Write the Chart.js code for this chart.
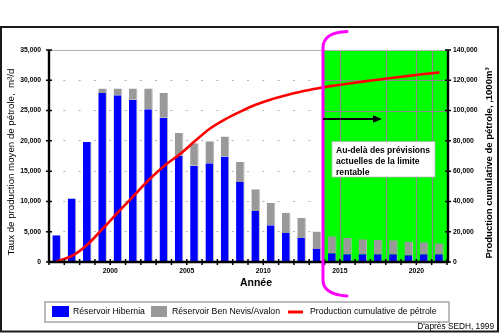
<!DOCTYPE html>
<html>
<head>
<meta charset="utf-8">
<script src="https://cdn.jsdelivr.net/npm/chart.js@4"></script>
<style>
  html, body { margin: 0; padding: 0; background: #fff; }
  canvas { display: block; }
</style>
</head>
<body>
<canvas id="c" width="500" height="333"></canvas>
<script>
// Production annuelle moyenne (m³/d) par réservoir et production cumulative (1000 m³)
const years = [1997, 1998, 1999, 2000, 2001, 2002, 2003, 2004, 2005, 2006, 2007, 2008, 2009,
               2010, 2011, 2012, 2013, 2014, 2015, 2016, 2017, 2018, 2019, 2020, 2021, 2022];
const hibernia = [4400, 10500, 19800, 27900, 27550, 26800, 25200, 23800, 17600, 15900, 16300, 17400, 13200,
                  8400, 6050, 4800, 3950, 2150, 1450, 1300, 1300, 1300, 1300, 1100, 1300, 1300];
const benNevis = [0, 0, 0, 750, 1100, 1850, 3450, 4100, 3700, 3700, 3650, 3300, 3300,
                  3600, 3700, 3350, 3300, 2900, 2800, 2650, 2450, 2350, 2300, 2200, 1950, 1800];
const cumulative = [500, 4000, 11400, 21900, 32700, 43400, 54000, 63300, 70800, 79500, 88000, 94200, 99300,
                    103800, 107300, 110100, 112600, 114600, 116300, 117700, 119100, 120400, 121700, 122900, 124100, 125200];
const rateTicks = [0, 5000, 10000, 15000, 20000, 25000, 30000, 35000];
const cumTicks = [0, 20000, 40000, 60000, 80000, 100000, 120000, 140000];
const yearLabels = [2000, 2005, 2010, 2015, 2020];

const labels = {
  hibernia: 'Réservoir Hibernia',
  benNevis: 'Réservoir Ben Nevis/Avalon',
  cumul: 'Production cumulative de pétrole',
  xTitle: 'Année',
  yTitle: 'Taux de production moyen de pétrole,  m³/d',
  y1Title: 'Production cumulative de pétrole, ,1000m³',
  note: ['Au-delà des prévisions', 'actuelles de la limite', 'rentable'],
  source: "D'après SEDH, 1999"
};

// zone au-delà de la limite rentable (axe des années)
const zoneStart = 2013.9;
const zoneGridYears = [2015, 2018, 2020, 2021];
const zoneGridCum = [100000, 120000];
const arrowLevel = 94400;
const arrowEndYear = 2017.75;

const fam = '"Liberation Sans", Arial, Helvetica, sans-serif';
const fmt = v => Number(v).toLocaleString('en-US');

const decor = {
  id: 'decor',
  beforeDatasetsDraw(chart) {
    const { ctx, chartArea: a, scales: { x, y1 } } = chart;
    const gx = x.getPixelForValue(zoneStart);
    ctx.save();
    ctx.fillStyle = '#00ff00';
    ctx.fillRect(gx, a.top, a.right - gx, a.bottom - a.top);
    ctx.strokeStyle = '#8a8a8a';
    ctx.lineWidth = 1.2;
    ctx.beginPath();
    for (const v of zoneGridYears) {
      const px = Math.round(x.getPixelForValue(v)) + 0.5;
      ctx.moveTo(px, a.top); ctx.lineTo(px, a.bottom);
    }
    for (const v of zoneGridCum) {
      const py = Math.round(y1.getPixelForValue(v)) + 0.5;
      ctx.moveTo(gx, py); ctx.lineTo(a.right, py);
    }
    ctx.stroke();
    ctx.strokeStyle = '#b0b0b0';
    ctx.lineWidth = 1;
    ctx.beginPath();
    ctx.moveTo(a.left, a.top + 0.5); ctx.lineTo(a.right, a.top + 0.5);
    ctx.stroke();
    ctx.restore();
  },
  afterDatasetsDraw(chart) {
    const { ctx, chartArea: a, scales: { x, y, y1 } } = chart;
    ctx.save();
    // axes
    ctx.strokeStyle = '#000';
    ctx.lineWidth = 2.4;
    ctx.beginPath();
    ctx.moveTo(a.left, a.top); ctx.lineTo(a.left, a.bottom + 1);
    ctx.moveTo(a.right + 1, a.top); ctx.lineTo(a.right + 1, a.bottom + 1);
    ctx.moveTo(a.left, a.bottom); ctx.lineTo(a.right + 1, a.bottom);
    ctx.stroke();
    ctx.lineWidth = 1.5;
    ctx.beginPath();
    for (const v of rateTicks) {
      const py = y.getPixelForValue(v);
      ctx.moveTo(a.left - 3, py); ctx.lineTo(a.left + 3, py);
    }
    for (const v of cumTicks) {
      const py = y1.getPixelForValue(v);
      ctx.moveTo(a.right - 2, py); ctx.lineTo(a.right + 4, py);
    }
    for (let v = x.min; v <= x.max; v++) {
      const px = x.getPixelForValue(v);
      ctx.moveTo(px, a.bottom - 3); ctx.lineTo(px, a.bottom + 3);
    }
    ctx.stroke();

    // limite rentable
    const gx = x.getPixelForValue(zoneStart);
    ctx.strokeStyle = '#ff00ff';
    ctx.lineWidth = 3;
    ctx.lineCap = 'round';
    ctx.beginPath();
    ctx.moveTo(gx + 24, a.top - 18.5);
    ctx.bezierCurveTo(gx + 8, a.top - 18, gx, a.top - 12, gx, a.top - 2);
    ctx.lineTo(gx, a.bottom + 18);
    ctx.bezierCurveTo(gx, a.bottom + 28, gx + 9, a.bottom + 33, gx + 24, a.bottom + 34);
    ctx.stroke();

    // flèche
    const ay = y1.getPixelForValue(arrowLevel);
    const ax = x.getPixelForValue(arrowEndYear);
    ctx.strokeStyle = '#000';
    ctx.fillStyle = '#000';
    ctx.lineWidth = 2;
    ctx.lineCap = 'butt';
    ctx.beginPath();
    ctx.moveTo(gx, ay); ctx.lineTo(ax - 8, ay);
    ctx.stroke();
    ctx.beginPath();
    ctx.moveTo(ax, ay); ctx.lineTo(ax - 9, ay - 3.8); ctx.lineTo(ax - 9, ay + 3.8);
    ctx.closePath();
    ctx.fill();

    // encadré
    const bx = gx + 9, by = a.top + 91.7, bw = a.right - 12 - bx, bh = 35.3;
    ctx.fillStyle = '#fff';
    ctx.fillRect(bx, by, bw, bh);
    ctx.strokeStyle = '#b8b8b8';
    ctx.lineWidth = 0.8;
    ctx.strokeRect(bx, by, bw, bh);
    ctx.fillStyle = '#000';
    ctx.font = 'bold 8.6px ' + fam;
    ctx.textBaseline = 'middle';
    ctx.textAlign = 'left';
    labels.note.forEach((t, i) => ctx.fillText(t, bx + 4, by + 8.5 + i * 11));
    ctx.restore();
  },
  afterDraw(chart) {
    const { ctx, chartArea: a } = chart;
    const ds = chart.data.datasets;
    ctx.save();
    // cadre
    ctx.strokeStyle = '#1a1a1a';
    ctx.lineWidth = 2;
    ctx.strokeRect(1, 27, 497, 304.5);

    // titres d'axes
    ctx.fillStyle = '#000';
    ctx.textAlign = 'center';
    ctx.textBaseline = 'middle';
    ctx.font = 'bold 10.5px ' + fam;
    ctx.fillText(labels.xTitle, 256, a.bottom + 21);

    ctx.save();
    ctx.translate(11, 162);
    ctx.rotate(-Math.PI / 2);
    ctx.font = '9.7px ' + fam;
    ctx.fillText(labels.yTitle, 0, 0);
    ctx.restore();

    ctx.save();
    ctx.translate(489.5, 163);
    ctx.rotate(-Math.PI / 2);
    ctx.font = 'bold 9.5px ' + fam;
    ctx.fillText(labels.y1Title, 0, 0);
    ctx.restore();

    // légende
    ctx.strokeStyle = '#a6a6a6';
    ctx.lineWidth = 1.5;
    ctx.strokeRect(45, 302, 404, 20);
    const byLabel = l => ds.find(d => d.label === l);
    const ly = 312;
    ctx.fillStyle = byLabel(labels.hibernia).backgroundColor;
    ctx.fillRect(52, 306, 17, 11);
    ctx.fillStyle = byLabel(labels.benNevis).backgroundColor;
    ctx.fillRect(151, 306, 16, 11);
    ctx.strokeStyle = byLabel(labels.cumul).borderColor;
    ctx.lineWidth = 3;
    ctx.beginPath(); ctx.moveTo(288, ly); ctx.lineTo(303, ly); ctx.stroke();
    ctx.fillStyle = '#000';
    ctx.textAlign = 'left';
    ctx.font = '8.7px ' + fam;
    ctx.fillText(labels.hibernia, 73, ly);
    ctx.fillText(labels.benNevis, 172, ly);
    ctx.fillText(labels.cumul, 310, ly);

    // source
    ctx.textAlign = 'right';
    ctx.font = '8.3px ' + fam;
    ctx.fillText(labels.source, 494, 327);
    ctx.restore();
  }
};

const barPoints = vals => years.map((yr, i) => ({ x: yr - 0.5, y: vals[i] }));

new Chart(document.getElementById('c'), {
  data: {
    datasets: [
      {
        type: 'line', label: labels.cumul, yAxisID: 'y1', order: 0,
        data: barPoints(cumulative),
        borderColor: '#ff0000', borderWidth: 2.6, pointRadius: 0,
        cubicInterpolationMode: 'monotone', fill: false
      },
      {
        type: 'bar', label: labels.hibernia, yAxisID: 'y', order: 1, stack: 'p',
        data: barPoints(hibernia),
        backgroundColor: '#0000ff', borderColor: '#b8b8b8',
        borderWidth: { top: 0, left: 0, right: 1, bottom: 0 }
      },
      {
        type: 'bar', label: labels.benNevis, yAxisID: 'y', order: 1, stack: 'p',
        data: barPoints(benNevis),
        backgroundColor: '#999999', borderColor: '#b8b8b8',
        borderWidth: { top: 0, left: 0, right: 1, bottom: 0 }
      }
    ]
  },
  options: {
    responsive: false,
    animation: false,
    events: [],
    layout: { padding: { top: 50, left: 0, right: 0, bottom: 0 } },
    plugins: { legend: { display: false }, tooltip: { enabled: false } },
    datasets: { bar: { categoryPercentage: 1, barPercentage: 0.56 } },
    scales: {
      x: {
        type: 'linear', min: 1996, max: 2022, offset: false,
        grid: { display: false, drawTicks: false },
        border: { display: false },
        ticks: {
          stepSize: 1, autoSkip: false, maxRotation: 0, minRotation: 0, padding: 5,
          color: '#000', font: { family: fam, size: 6.8, weight: 'bold' },
          callback: v => yearLabels.includes(v) ? String(v) : ''
        },
        afterFit: s => { s.height = 71; }
      },
      y: {
        position: 'left', stacked: true, min: 0, max: 35000,
        grid: { color: '#b4b4b4', lineWidth: 1, drawTicks: false },
        border: { display: false, dash: [2, 13.31], dashOffset: 1 },
        ticks: {
          stepSize: 5000, padding: 8, color: '#000',
          font: { family: fam, size: 6.8, weight: 'bold' },
          callback: v => fmt(v)
        },
        afterFit: s => { s.width = 49; }
      },
      y1: {
        position: 'right', min: 0, max: 140000,
        grid: { display: false, drawTicks: false },
        border: { display: false },
        ticks: {
          stepSize: 20000, padding: 6, color: '#000',
          font: { family: fam, size: 6.8, weight: 'bold' },
          callback: v => fmt(v)
        },
        afterFit: s => { s.width = 53; }
      }
    }
  },
  plugins: [decor]
});
</script>
</body>
</html>
